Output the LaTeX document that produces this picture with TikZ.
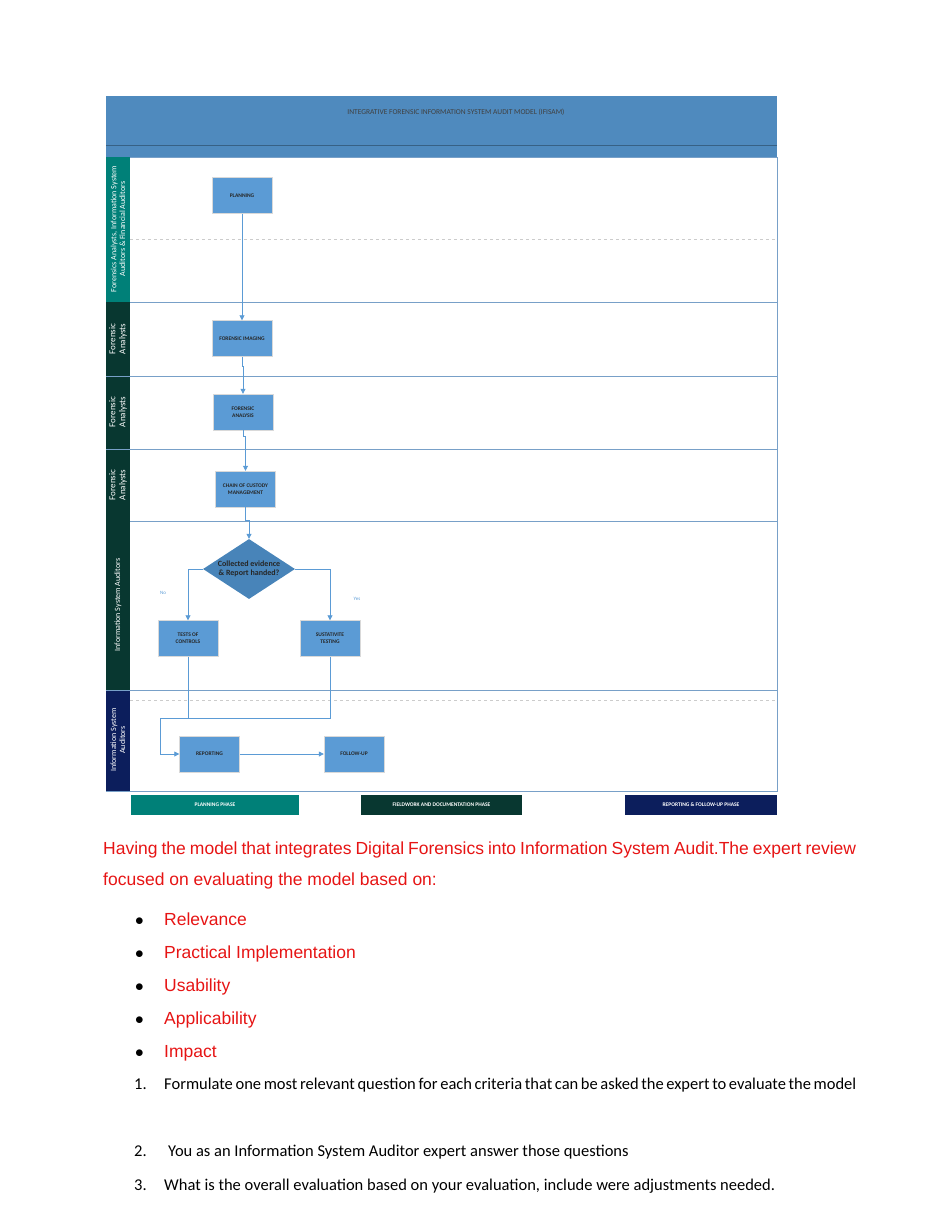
\documentclass[tikz,border=0pt]{standalone}
\usepackage{fontspec}
\setmainfont{Carlito}
\newfontfamily\arialf{Liberation Sans}
\usetikzlibrary{shapes.geometric,arrows.meta}
\definecolor{hdr}{RGB}{79,138,190}
\definecolor{boxc}{RGB}{91,155,213}
\definecolor{dia}{RGB}{72,132,185}
\definecolor{teal}{RGB}{0,128,120}
\definecolor{dgreen}{RGB}{8,55,48}
\definecolor{navy}{RGB}{12,30,92}
\definecolor{lanel}{RGB}{120,160,200}
\definecolor{conn}{RGB}{91,155,213}
\definecolor{redt}{RGB}{230,20,20}
\tikzset{
 x=1pt,y=-1pt,
 proc/.style={draw=white!70!gray,fill=boxc,minimum width=60pt,minimum height=36pt,inner sep=1pt,align=center,font=\fontsize{5.5}{7}\selectfont\bfseries,text=black!85},
 lane/.style={text=white,rotate=90,align=center,font=\fontsize{9}{10}\selectfont},
 conn/.style={draw=conn,line width=0.8pt,-{Triangle[length=5pt,width=5pt]}},
 connp/.style={draw=conn,line width=0.8pt},
 phase/.style={text=white,font=\fontsize{5.5}{7}\selectfont\bfseries,inner sep=0pt},
}
\begin{document}
\begin{tikzpicture}
\useasboundingbox (0,0) rectangle (951,1221);
% header
\fill[hdr] (106,96) rectangle (777,157);
\draw[black!30!hdr] (106,145) -- (777,145);
\node[font=\fontsize{7.5}{9}\selectfont,text=black!75] (title) at (456,112) {INTEGRATIVE FORENSIC INFORMATION SYSTEM AUDIT MODEL (IFISAM)};
% lanes
\draw[lanel] (106,157) rectangle (777,791);
\foreach \y in {302,376,449,521,690} \draw[lanel,line width=1pt] (106,\y) -- (777,\y);
\fill[teal] (106,157) rectangle (130,302);
\fill[dgreen] (106,302) rectangle (130,521);
\foreach \y in {376,449} \draw[lanel] (106,\y) -- (130,\y);
\draw[lanel] (106,521) -- (130,521);
\fill[dgreen] (106,521) rectangle (130,690);
\fill[navy] (106,690) rectangle (130,791);
\draw[lanel] (106,690) -- (130,690);
\draw[dashed,gray!40] (130,239) -- (777,239);
\draw[dashed,gray!40] (130,700) -- (777,700);
\node[lane,font=\fontsize{8}{9}\selectfont] (l1) at (118,229) {Forensics Analysts, Information System\\Auditors \& Financial Auditors};
\node[lane] (l2) at (118,339) {Forensic\\Analysts};
\node[lane] (l3) at (118,412) {Forensic\\Analysts};
\node[lane] (l4) at (118,485) {Forensic\\Analysts};
\node[lane,font=\fontsize{8}{9}\selectfont] (l5) at (118,605) {Information System Auditors};
\node[lane,font=\fontsize{8}{9}\selectfont] (l6) at (118,740) {Information System\\Auditors};
% nodes
\node[proc] (plan) at (242,195.5) {PLANNING};
\node[proc] (img) at (242,338.5) {FORENSIC IMAGING};
\node[proc] (ana) at (243,412) {FORENSIC\\ANALYSIS};
\node[proc] (coc) at (245.5,489) {CHAIN OF CUSTODY\\MANAGEMENT};
\node[diamond,fill=dia,minimum width=92pt,minimum height=60pt,inner sep=0pt,aspect=1.55,font=\fontsize{8}{9.5}\selectfont\bfseries,text=black!85,align=center] (dec) at (249,569) {Collected evidence\\\& Report handed?};
\node[proc] (toc) at (188,638.5) {TESTS OF\\CONTROLS};
\node[proc] (sus) at (330,638.5) {SUSTATIVITE\\TESTING};
\node[proc] (rep) at (209.5,754) {REPORTING};
\node[proc] (fol) at (354,754) {FOLLOW-UP};
\node[text=conn,font=\fontsize{5}{6}\selectfont] (no) at (163,593) {No};
\node[text=conn,font=\fontsize{5}{6}\selectfont] (yes) at (357,599) {Yes};
% connectors
\draw[conn] (plan.south) -- (img.north);
\draw[conn] (img.south) |- (243,366) -- (ana.north);
\draw[conn] (ana.south) -- ++(0,6) -| (coc.north);
\draw[conn] (coc.south) |- (249,520) -- (dec.north);
\draw[conn] (dec.west) -| (toc.north);
\draw[conn] (dec.east) -| (sus.north);
\coordinate (mj) at (188,718);
\draw[connp] (sus.south) |- (mj);
\draw[conn] (toc.south) -- (mj) -- (160,718) |- (rep.west);
\draw[conn] (rep.east) -- (fol.west);
% phases
\node[phase,fill=teal,minimum width=168pt,minimum height=20pt] (p1) at (215,805) {PLANNING PHASE};
\node[phase,fill=dgreen,minimum width=161pt,minimum height=20pt] (p2) at (441.5,805) {FIELDWORK AND DOCUMENTATION PHASE};
\node[phase,fill=navy,minimum width=152pt,minimum height=20pt] (p3) at (701,805) {REPORTING \& FOLLOW-UP PHASE};
% text
\node[anchor=north west,inner sep=0pt,text width=753pt,align=justify,text=redt,font=\arialf\fontsize{17.5}{31}\selectfont] (para) at (103,842) {Having the model that integrates Digital Forensics into Information System Audit.The expert review focused on evaluating the model based on:};
\foreach \t [count=\i] in {Relevance,Practical Implementation,Usability,Applicability,Impact}{
 \node[anchor=base west,inner sep=0pt,font=\arialf\fontsize{17.5}{20}\selectfont] (b\i) at (135,{925+(\i-1)*33}) {$\bullet$};
 \node[anchor=base west,inner sep=0pt,text=redt,font=\arialf\fontsize{17.5}{20}\selectfont] (bt\i) at (164,{925+(\i-1)*33}) {\t};
}
\node[anchor=base west,inner sep=0pt,font=\fontsize{16.5}{20}\selectfont] (n1) at (134,1089) {1.};
\node[anchor=base west,inner sep=0pt,text width=692pt,align=justify,font=\fontsize{16.5}{34}\selectfont] (t1) at (164,1089) {Formulate one most relevant question for each criteria that can be asked the expert to evaluate the model};
\node[anchor=base west,inner sep=0pt,font=\fontsize{16.5}{20}\selectfont] (n2) at (134,1156) {2.};
\node[anchor=base west,inner sep=0pt,font=\fontsize{16.5}{20}\selectfont] (t2) at (168,1156) {You as an Information System Auditor expert answer those questions};
\node[anchor=base west,inner sep=0pt,font=\fontsize{16.5}{20}\selectfont] (n3) at (134,1190) {3.};
\node[anchor=base west,inner sep=0pt,font=\fontsize{16.5}{20}\selectfont] (t3) at (164,1190) {What is the overall evaluation based on your evaluation, include were adjustments needed.};
\end{tikzpicture}
\end{document}
